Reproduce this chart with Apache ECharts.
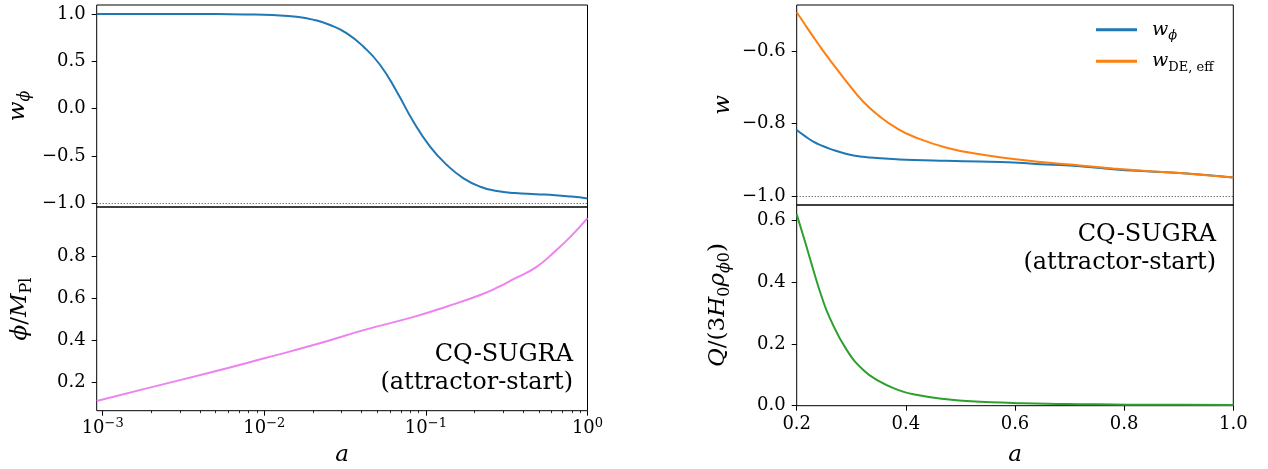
<!DOCTYPE html>
<html>
<head>
<meta charset="utf-8">
<title>CQ-SUGRA attractor-start</title>
<script src="https://cdn.jsdelivr.net/npm/echarts@6/dist/echarts.min.js"></script>
<style>
  html, body { margin: 0; padding: 0; background: #fff; }
  #chart { width: 1268px; height: 469px; }
</style>
</head>
<body>
<div id="chart"></div>
<script>
// left column, x given as log10(a)
const wPhiLogA = [-3.037, -2.6, -2.3, -2.1, -1.95, -1.8, -1.69, -1.593, -1.489, -1.386, -1.283, -1.18,
                  -1.077, -0.973, -0.87, -0.767, -0.664, -0.56, -0.45, -0.32, -0.2, -0.1, 0];
const wPhiLeft = [1.0, 1.0, 0.999, 0.995, 0.988, 0.971, 0.937, 0.884, 0.796, 0.654, 0.461, 0.179,
                  -0.139, -0.404, -0.596, -0.737, -0.826, -0.871, -0.893, -0.905, -0.915, -0.930, -0.949];
const phiLogA = [-3.037, -2.728, -2.316, -2.0, -1.69, -1.38, -1.07, -0.87, -0.66, -0.55, -0.455, -0.32, -0.2, -0.1, 0];
const phiVals = [0.113, 0.173, 0.252, 0.316, 0.380, 0.451, 0.514, 0.562, 0.618, 0.655, 0.693, 0.748, 0.825, 0.898, 0.982];

// right column, linear a
const aRight = [0.2, 0.2152, 0.2305, 0.2458, 0.261, 0.2916, 0.322, 0.3526, 0.383, 0.4136, 0.4747,
                0.5357, 0.597, 0.658, 0.719, 0.78, 0.841, 0.902, 1.0];
const wPhiRight = [-0.818, -0.835, -0.850, -0.861, -0.870, -0.884, -0.892, -0.896, -0.899, -0.901, -0.903,
                   -0.905, -0.908, -0.913, -0.918, -0.926, -0.932, -0.937, -0.949];
const wDeEff = [-0.493, -0.527, -0.561, -0.594, -0.625, -0.685, -0.740, -0.781, -0.813, -0.836, -0.867,
                -0.885, -0.898, -0.908, -0.916, -0.924, -0.931, -0.937, -0.949];
const qVals = [0.620, 0.532, 0.440, 0.353, 0.283, 0.181, 0.116, 0.078, 0.053, 0.037, 0.021,
               0.013, 0.009, 0.006, 0.005, 0.004, 0.003, 0.003, 0.002];

// ticks
const leftXTicks = [-3, -2, -1, 0];
const leftTopYTicks = [-1, -0.5, 0, 0.5, 1];
const leftBotYTicks = [0.2, 0.4, 0.6, 0.8];
const rightTopYTicks = [-1, -0.8, -0.6];
const rightBotYTicks = [0, 0.2, 0.4, 0.6];
const minorXTicks = [];
for (let n = -4; n < 0; n++) {
  for (let k = 2; k <= 9; k++) {
    const v = n + Math.log10(k);
    if (v >= -3.037 && v <= 0) minorXTicks.push(v);
  }
}

const FONT = 'DejaVu Serif';
const TICK = 18;
const zip = (xs, ys) => xs.map((x, i) => [x, ys[i]]);
const num = v => (v < -1e-9 ? '\u2212' : '') + Math.abs(v).toFixed(1);

const mathRich = size => ({
  i: { fontFamily: FONT, fontStyle: 'italic', fontSize: size, lineHeight: size + 6, color: '#000' },
  r: { fontFamily: FONT, fontSize: size, lineHeight: size + 6, color: '#000' },
  sub: { fontFamily: FONT, fontStyle: 'italic', fontSize: Math.round(size * 0.7), lineHeight: Math.round(size * 0.7), verticalAlign: 'bottom', color: '#000' },
  subr: { fontFamily: FONT, fontSize: Math.round(size * 0.7), lineHeight: Math.round(size * 0.7), verticalAlign: 'bottom', color: '#000' },
  g: { width: 10 }
});

const tickStyle = { show: true, length: 5, lineStyle: { color: '#000', width: 1 } };
const labelStyle = { color: '#000', fontFamily: FONT, fontSize: TICK, margin: 11 };
const off = { show: false };

function yAxis(grid, min, max, ticks) {
  return {
    gridIndex: grid, type: 'value', min: min, max: max,
    axisLine: { show: false, onZero: false },
    axisTick: Object.assign({ customValues: ticks }, tickStyle),
    axisLabel: Object.assign({ customValues: ticks, formatter: num }, labelStyle),
    splitLine: off
  };
}

const dotted = {
  silent: true, symbol: 'none', animation: false,
  label: { show: false },
  lineStyle: { type: [1, 2], color: '#222', width: 0.9 },
  data: [{ yAxis: -1 }]
};

function line(name, xi, yi, data, color, extra) {
  return Object.assign({
    name: name, type: 'line', xAxisIndex: xi, yAxisIndex: yi, data: data,
    showSymbol: false, symbol: 'none', smooth: 0.5,
    lineStyle: { color: color, width: 2 }, itemStyle: { color: color }
  }, extra || {});
}

function textEl(x, y, rich, text, rot, align) {
  return {
    type: 'text', x: x, y: y, rotation: rot || 0,
    style: {
      text: text, rich: rich, fill: '#000', font: '23px "DejaVu Serif"',
      align: align || 'center', verticalAlign: 'middle',
      textAlign: align || 'center', textVerticalAlign: 'middle'
    }
  };
}

const chart = echarts.init(document.getElementById('chart'), null, { renderer: 'canvas' });
const axR = mathRich(23);
const note = {
  r: { fontFamily: FONT, fontSize: 24, lineHeight: 28, color: '#000', align: 'right' }
};

chart.setOption({
  animation: false,
  backgroundColor: '#fff',
  grid: [
    { left: 96.7, top: 5, width: 490.8, height: 202, show: true, borderColor: '#000', borderWidth: 1 },
    { left: 96.7, top: 207, width: 490.8, height: 203.7, show: true, borderColor: '#000', borderWidth: 1 },
    { left: 796.7, top: 5, width: 436.6, height: 200, show: true, borderColor: '#000', borderWidth: 1 },
    { left: 796.7, top: 205, width: 436.6, height: 200.7, show: true, borderColor: '#000', borderWidth: 1 }
  ],
  xAxis: [
    { gridIndex: 0, type: 'value', min: -3.037, max: 0, axisLine: { show: false, onZero: false }, axisTick: off, axisLabel: off, splitLine: off },
    {
      gridIndex: 1, type: 'value', position: 'bottom', min: -3.037, max: 0,
      axisLine: { show: false, onZero: false },
      axisTick: Object.assign({ customValues: leftXTicks }, tickStyle),
      axisLabel: Object.assign({}, labelStyle, {
        margin: 6,
        customValues: leftXTicks,
        formatter: v => '{b|10}{sup|' + (v < 0 ? '\u2212' + Math.abs(Math.round(v)) : '0') + '}',
        rich: {
          b: { fontFamily: FONT, fontSize: TICK, lineHeight: 24, color: '#000' },
          sup: { fontFamily: FONT, fontSize: 13, lineHeight: 9, verticalAlign: 'top', color: '#000' }
        }
      }),
      splitLine: off
    },
    {
      gridIndex: 1, type: 'value', position: 'bottom', min: -3.037, max: 0,
      axisLine: { show: false, onZero: false },
      axisTick: { show: true, customValues: minorXTicks, length: 2.5, lineStyle: { color: '#000', width: 0.8 } },
      axisLabel: off, splitLine: off
    },
    { gridIndex: 2, type: 'value', min: 0.2, max: 1, axisLine: { show: false, onZero: false }, axisTick: off, axisLabel: off, splitLine: off },
    {
      gridIndex: 3, type: 'value', position: 'bottom', min: 0.2, max: 1, interval: 0.2,
      axisLine: { show: false, onZero: false },
      axisTick: tickStyle,
      axisLabel: Object.assign({ formatter: num }, labelStyle, { margin: 10 }),
      splitLine: off
    }
  ],
  yAxis: [
    yAxis(0, -1.04, 1.095, leftTopYTicks),
    yAxis(1, 0.067, 1.035, leftBotYTicks),
    yAxis(2, -1.025, -0.473, rightTopYTicks),
    yAxis(3, 0, 0.6505, rightBotYTicks)
  ],
  legend: {
    data: ['wphi', 'wde'],
    orient: 'vertical', left: 1091, top: 15.3,
    itemWidth: 41, itemHeight: 3, itemGap: 9.4, icon: 'rect',
    formatter: name => name === 'wphi' ? '{g|}{i|w}{sub|\u03d5}' : '{g|}{i|w}{subr|DE, eff}',
    textStyle: { color: '#000', rich: mathRich(19) }
  },
  series: [
    line('wphiLeft', 0, 0, zip(wPhiLogA, wPhiLeft), '#1f77b4', { markLine: dotted }),
    line('phi', 1, 1, zip(phiLogA, phiVals), '#ee82ee'),
    line('wphi', 3, 2, zip(aRight, wPhiRight), '#1f77b4', { markLine: dotted }),
    line('wde', 3, 2, zip(aRight, wDeEff), '#ff7f0e'),
    line('Q', 4, 3, zip(aRight, qVals), '#2ca02c')
  ],
  graphic: [
    textEl(18, 106, axR, '{i|w}{sub|\u03d5}', Math.PI / 2),
    textEl(20, 309, axR, '{i|\u03d5}{r|/}{i|M}{subr|Pl}', Math.PI / 2),
    textEl(723, 105, axR, '{i|w}', Math.PI / 2),
    textEl(718, 305, axR, '{i|Q}{r|/(3}{i|H}{subr|0}{i|\u03c1}{sub|\u03d5}{subr|0}{r|)}', Math.PI / 2),
    textEl(342, 455, axR, '{i|a}'),
    textEl(1015, 455, axR, '{i|a}'),
    textEl(573, 369, note, '{r|CQ-SUGRA}\n{r|(attractor-start)}', 0, 'right'),
    textEl(1216, 249, note, '{r|CQ-SUGRA}\n{r|(attractor-start)}', 0, 'right')
  ]
});
</script>
</body>
</html>
